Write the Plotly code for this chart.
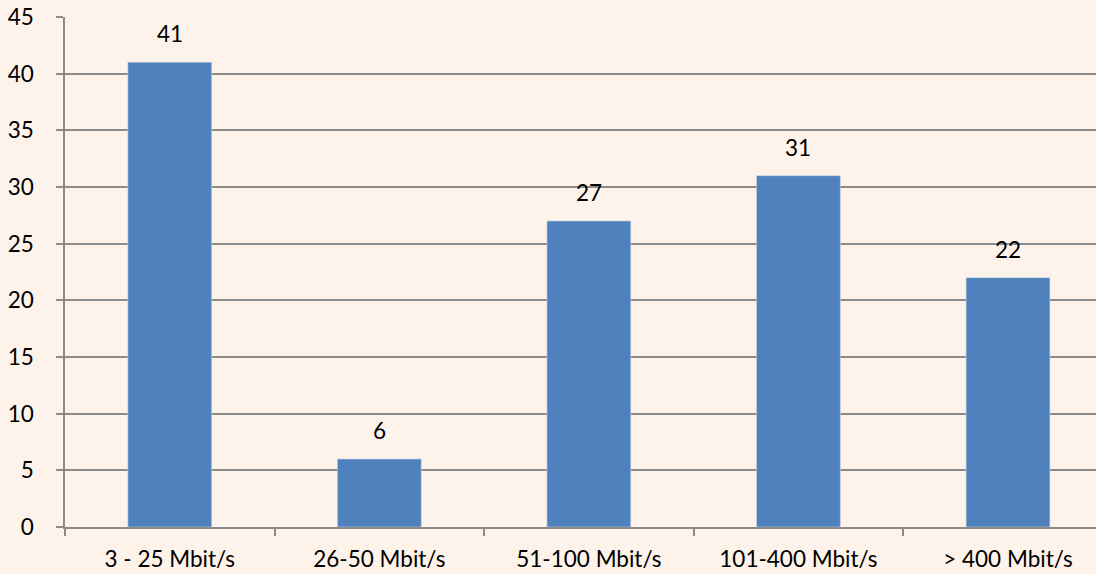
import plotly.graph_objects as go

categories = ["3 - 25 Mbit/s", "26-50 Mbit/s", "51-100 Mbit/s", "101-400 Mbit/s", "> 400 Mbit/s"]
values = [41, 6, 27, 31, 22]
y_ticks = [0, 5, 10, 15, 20, 25, 30, 35, 40, 45]

bg = "#FDF3EA"
grid = "#8C8C8C"
font_family = "Lato, 'Open Sans', sans-serif"
fsize = 22.5

fig = go.Figure()
fig.add_trace(go.Bar(
    x=categories, y=values,
    marker=dict(color="#4F81BD", line=dict(color="#C5D3E6", width=0.6)),
    width=0.4,
    hoverinfo="skip",
))

for c, v in zip(categories, values):
    fig.add_annotation(x=c, y=v, text=str(v), showarrow=False,
                       yanchor="bottom", yshift=13,
                       font=dict(size=fsize, color="#000000", family=font_family))

fig.update_layout(
    width=1096, height=574,
    margin=dict(l=65, r=0, t=17, b=47),
    paper_bgcolor=bg, plot_bgcolor=bg,
    showlegend=False,
    font=dict(family=font_family, size=fsize, color="#000000"),
)
fig.update_xaxes(
    type="category", range=[-0.5, 4.42],
    showline=True, linecolor=grid, linewidth=1.5,
    ticks="outside", tickson="boundaries", ticklen=7, tickcolor=grid, tickwidth=1.5,
    showgrid=False, ticklabelstandoff=11,
    tickfont=dict(size=fsize, color="#000000", family=font_family),
)
fig.update_yaxes(
    range=[0, 45], tickvals=y_ticks,
    showline=True, linecolor=grid, linewidth=1.5,
    ticks="outside", ticklen=7, tickcolor=grid, tickwidth=1.5,
    showgrid=True, gridcolor=grid, gridwidth=1.5,
    zeroline=False, ticklabelstandoff=18,
    tickfont=dict(size=fsize, color="#000000", family=font_family),
)

fig.write_html("out.html", config={"displayModeBar": False},
               post_script="document.body.style.margin='0';document.body.style.background='%s';" % bg)
